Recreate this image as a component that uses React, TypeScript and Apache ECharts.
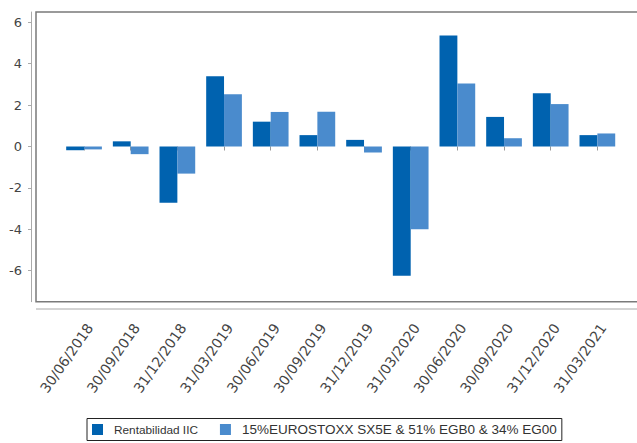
import React, { useEffect, useRef } from "react";
import * as echarts from "echarts";

const categories = [
  "30/06/2018",
  "30/09/2018",
  "31/12/2018",
  "31/03/2019",
  "30/06/2019",
  "30/09/2019",
  "31/12/2019",
  "31/03/2020",
  "30/06/2020",
  "30/09/2020",
  "31/12/2020",
  "31/03/2021",
];

const rentabilidadIIC = [-0.18, 0.25, -2.72, 3.4, 1.2, 0.55, 0.32, -6.25, 5.37, 1.43, 2.57, 0.55];
const benchmark = [-0.14, -0.37, -1.31, 2.53, 1.67, 1.68, -0.29, -4.0, 3.05, 0.4, 2.05, 0.63];

const seriesNames = ["Rentabilidad IIC", "15%EUROSTOXX SX5E & 51% EGB0 & 34% EG00"];
const yTicks = [-6, -4, -2, 0, 2, 4, 6];

export default function App() {
  const ref = useRef<HTMLDivElement>(null);

  useEffect(() => {
    if (!ref.current) return;
    const chart = echarts.init(ref.current, null, { renderer: "svg" });
    chart.setOption({
      animation: false,
      backgroundColor: "#ffffff",
      grid: { left: 60.7, right: 16.3, top: 12, bottom: 141.3, containLabel: false },
      graphic: [
        {
          type: "rect",
          z: 0,
          shape: { x: 36, y: 12, width: 620, height: 289.7 },
          style: { fill: "none", stroke: "#7a7a7a", lineWidth: 1.5 },
        },
        {
          type: "line",
          z: 0,
          shape: { x1: 36, y1: 309, x2: 637, y2: 309 },
          style: { stroke: "#a8a8a8", lineWidth: 1 },
        },
      ],
      legend: {
        left: 87,
        top: 418.5,
        orient: "horizontal",
        icon: "rect",
        itemWidth: 11,
        itemHeight: 11,
        itemGap: 22,
        padding: [4, 5, 4, 5],
        borderColor: "#222",
        borderWidth: 1,
        data: seriesNames,
        formatter: (name: string) => (name === seriesNames[0] ? `{a|${name}}` : `{b|${name}}`),
        textStyle: {
          color: "#333",
          fontFamily: "Liberation Sans",
          padding: [0, 0, 0, 6],
          rich: {
            a: { fontSize: 11.8, fontFamily: "Liberation Sans", color: "#333" },
            b: { fontSize: 13.5, fontFamily: "Liberation Sans", color: "#333" },
          },
        },
      },
      xAxis: {
        type: "category",
        data: categories,
        offset: 7.3,
        axisLine: { show: false },
        axisTick: { show: true, alignWithLabel: true, length: 4, lineStyle: { color: "#999" } },
        axisLabel: {
          interval: 0,
          rotate: 55,
          margin: 12,
          verticalAlign: "top",
          color: "#444",
          fontFamily: "DejaVu Sans",
          fontSize: 14,
        },
        splitLine: { show: false },
      },
      yAxis: {
        type: "value",
        min: -7.5,
        max: 6.5,
        position: "left",
        offset: 29.7,
        axisLine: { show: true, lineStyle: { color: "#aaa" } },
        axisTick: { show: true, length: 3, customValues: yTicks, lineStyle: { color: "#aaa" } },
        axisLabel: {
          customValues: yTicks,
          margin: 9,
          color: "#444",
          fontFamily: "DejaVu Sans",
          fontSize: 13,
        },
        splitLine: { show: false },
      },
      series: [
        {
          name: seriesNames[0],
          type: "bar",
          data: rentabilidadIIC,
          barGap: "0%",
          barCategoryGap: "23.5%",
          itemStyle: { color: "#0062AF" },
        },
        {
          name: seriesNames[1],
          type: "bar",
          data: benchmark,
          barGap: "0%",
          barCategoryGap: "23.5%",
          itemStyle: { color: "#4A8BCD" },
        },
      ],
    });
    return () => chart.dispose();
  }, []);

  return (
    <div
      ref={ref}
      style={{ position: "absolute", left: 0, top: 0, width: 637, height: 443 }}
    />
  );
}
